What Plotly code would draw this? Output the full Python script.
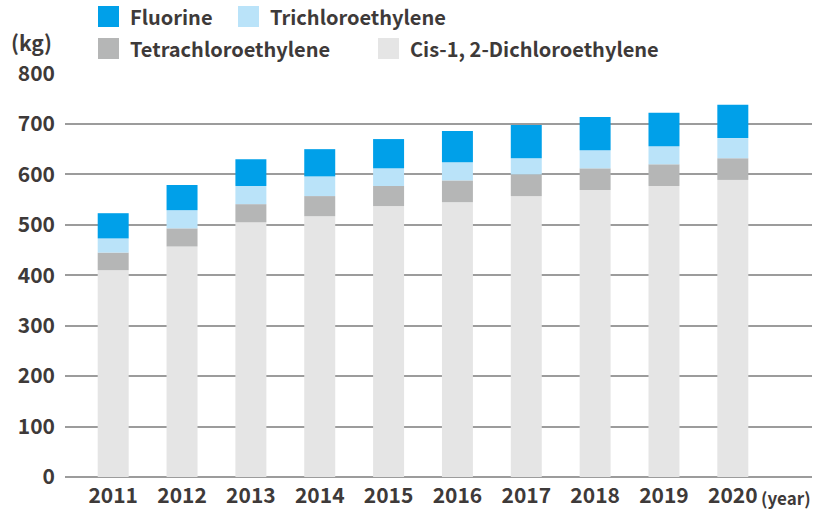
import plotly.graph_objects as go
import plotly.express as px
import pandas as pd

FONT_FAMILY = "Noto Sans CJK JP, Noto Sans, sans-serif"
COLOR_PALETTE = {
    "fluorine": "#00a0e9",   # Bright blue
    "trichloro": "#bae3f9",  # Pale blue
    "tetrachloro": "#b5b6b6",  # Mid grey
    "cis": "#e5e5e5",        # Light grey
    "gridline": "#9c9c9c",
    "text": "#3e3a39",
    "background": "white",
}

# plot area in pixels: left, right, top, bottom
PLOT_BOX = dict(l=65, r=812, t=73, b=477)
WIDTH, HEIGHT = 826, 511

df = pd.DataFrame({
    "year": [str(y) for y in range(2011, 2021)],
    "Cis-1, 2-Dichloroethylene": [410, 457, 505, 517, 537, 545, 557, 569, 577, 589],
    "Tetrachloroethylene": [35, 36, 36, 40, 40, 43, 43, 43, 43, 43],
    "Trichloroethylene": [28, 36, 36, 39, 35, 36, 32, 36, 36, 40],
    "Fluorine": [50, 50, 53, 54, 58, 62, 66, 66, 66, 66],
})
SERIES = ["Cis-1, 2-Dichloroethylene", "Tetrachloroethylene", "Trichloroethylene", "Fluorine"]
SERIES_COLORS = [COLOR_PALETTE["cis"], COLOR_PALETTE["tetrachloro"], COLOR_PALETTE["trichloro"], COLOR_PALETTE["fluorine"]]

# legend boxes drawn by hand: (label, color, square left x, square top y)
LEGEND_ITEMS = [
    ("Fluorine", COLOR_PALETTE["fluorine"], 98, 6),
    ("Trichloroethylene", COLOR_PALETTE["trichloro"], 238, 6),
    ("Tetrachloroethylene", COLOR_PALETTE["tetrachloro"], 98, 38),
    ("Cis-1, 2-Dichloroethylene", COLOR_PALETTE["cis"], 378, 38),
]


def to_paper(x, y):
    """Pixel position on the page -> paper coordinates."""
    px_w = PLOT_BOX["r"] - PLOT_BOX["l"]
    px_h = PLOT_BOX["b"] - PLOT_BOX["t"]
    return (x - PLOT_BOX["l"]) / px_w, (PLOT_BOX["b"] - y) / px_h


def add_box_legend(fig, size=21):
    for label, color, x0, y0 in LEGEND_ITEMS:
        px0, py0 = to_paper(x0, y0)
        px1, py1 = to_paper(x0 + size, y0 + size)
        fig.add_shape(type="rect", xref="paper", yref="paper", x0=px0, x1=px1, y0=py1, y1=py0,
                      fillcolor=color, line=dict(width=0))
        tx, ty = to_paper(x0 + size + 9, y0 + size / 2)
        fig.add_annotation(x=tx, y=ty, xref="paper", yref="paper", text=label, showarrow=False,
                           xanchor="left", yanchor="middle", font=dict(size=20, weight="bold"))
    return fig


def apply_chart_layout(fig):
    fig.update_layout(
        width=WIDTH, height=HEIGHT,
        plot_bgcolor=COLOR_PALETTE["background"],
        paper_bgcolor=COLOR_PALETTE["background"],
        font=dict(family=FONT_FAMILY, color=COLOR_PALETTE["text"], size=21, weight="bold"),
        margin=dict(l=PLOT_BOX["l"], r=WIDTH - PLOT_BOX["r"], t=PLOT_BOX["t"], b=HEIGHT - PLOT_BOX["b"], pad=0),
        showlegend=False,
        bargap=0.55,
        xaxis=dict(title=None, type="category", range=[-0.70, 10.15], showgrid=False, automargin=False,
                   ticks="", ticklabelstandoff=4, tickfont=dict(size=21, weight="bold")),
        yaxis=dict(title=None, range=[0, 801], dtick=100, showgrid=True, gridcolor=COLOR_PALETTE["gridline"],
                   gridwidth=2, zeroline=True, zerolinecolor=COLOR_PALETTE["gridline"], zerolinewidth=2,
                   automargin=False, ticks="", ticklabelstandoff=9, tickfont=dict(size=21, weight="bold")),
    )
    return fig


fig = px.bar(df, x="year", y=SERIES, color_discrete_sequence=SERIES_COLORS)
fig.update_traces(marker_line_width=0)
apply_chart_layout(fig)
add_box_legend(fig)

kx, ky = to_paper(31, 42)
fig.add_annotation(x=kx, y=ky, xref="paper", yref="paper", text="(kg)", showarrow=False,
                   xanchor="center", yanchor="middle", font=dict(size=21, weight="bold"))
yx, yy = to_paper(759, 497)
fig.add_annotation(x=yx, y=yy, xref="paper", yref="paper", text="(year)", showarrow=False,
                   xanchor="left", yanchor="middle", font=dict(size=17, weight="bold"))

fig.write_html("out.html", config={"displayModeBar": False},
               post_script="document.body.style.margin = '0px';")
